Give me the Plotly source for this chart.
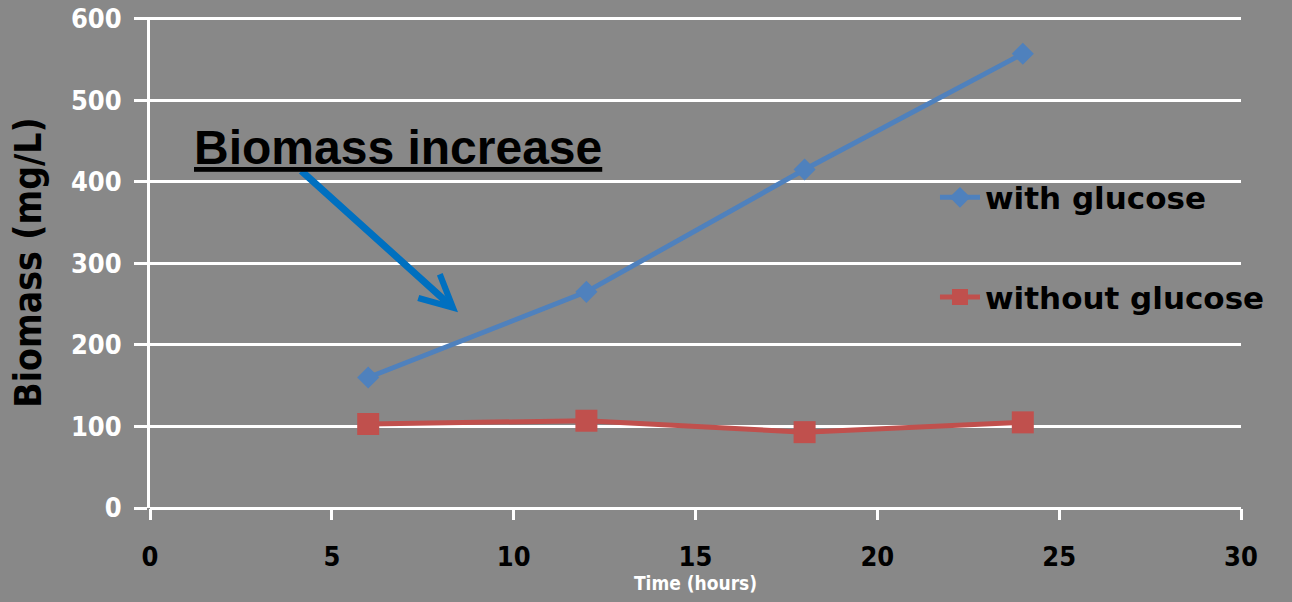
import plotly.graph_objects as go

# Sampling times (hours) and biomass readings (mg/L)
hours = [6, 12, 18, 24]
with_glucose = [160, 265, 415, 557]
without_glucose = [103, 107, 93, 105]

x_ticks = [0, 5, 10, 15, 20, 25, 30]
y_ticks = [0, 100, 200, 300, 400, 500, 600]

BG = "#888888"
BLUE = "#4F81BD"
RED = "#C0504D"
COND = "DejaVu Sans Condensed, DejaVu Sans"

fig = go.Figure()

fig.add_trace(go.Scatter(
    x=hours, y=with_glucose, name="<b>with glucose</b>",
    mode="lines+markers",
    line=dict(color=BLUE, width=5),
    marker=dict(symbol="diamond", size=17, color=BLUE),
    legend="legend",
))
fig.add_trace(go.Scatter(
    x=hours, y=without_glucose, name="<b>without glucose</b>",
    mode="lines+markers",
    line=dict(color=RED, width=5),
    marker=dict(symbol="square", size=22, color=RED),
    legend="legend2",
))

legend_style = dict(
    bgcolor="rgba(0,0,0,0)",
    font=dict(family="DejaVu Sans", size=31, color="black"),
    xanchor="left", yanchor="middle",
    itemwidth=40,
)

fig.update_layout(
    width=1292, height=602,
    margin=dict(l=150, r=51, t=17, b=94, autoexpand=False),
    paper_bgcolor=BG, plot_bgcolor=BG,
    legend=dict(x=0.7195, y=0.632, **legend_style),
    legend2=dict(x=0.7195, y=0.429, **legend_style),
    xaxis=dict(
        range=[0, 30], tickvals=x_ticks, ticktext=[f"<b>{v}</b>" for v in x_ticks],
        showgrid=False, zeroline=False, showline=False,
        automargin=False,
        ticks="outside", ticklen=11, tickwidth=3, tickcolor="white",
        ticklabelstandoff=14,
        tickfont=dict(family=COND, size=27, color="black"),
        title=dict(text="<b>Time (hours)</b>", standoff=4,
                   font=dict(family=COND, size=19, color="white")),
    ),
    yaxis=dict(
        range=[0, 602], tickvals=y_ticks, ticktext=[f"<b>{v}</b>" for v in y_ticks],
        showgrid=True, gridcolor="white", gridwidth=3,
        zeroline=True, zerolinecolor="white", zerolinewidth=3,
        showline=True, linecolor="white", linewidth=3,
        automargin=False,
        ticks="outside", ticklen=13, tickwidth=3, tickcolor="white",
        ticklabelstandoff=7,
        tickfont=dict(family=COND, size=27, color="white"),
        title=dict(text="<b>Biomass (mg/L)</b>", standoff=18,
                   font=dict(family=COND, size=37, color="black")),
    ),
    showlegend=True,
)

# Callout pointing at the rising glucose curve
fig.add_annotation(
    x=8.47, y=240, ax=4.12, ay=415, axref="x", ayref="y",
    xref="x", yref="y",
    text="", showarrow=True,
    arrowcolor="#0070C0", arrowwidth=7, arrowhead=5, arrowsize=0.9,
)
fig.add_annotation(
    x=1.15, y=442, xref="x", yref="y", xanchor="left", yanchor="middle",
    text="<b><u>Biomass increase</u></b>",
    showarrow=False,
    font=dict(family="Liberation Sans", size=48, color="black"),
)

fig.write_html("out.html")
